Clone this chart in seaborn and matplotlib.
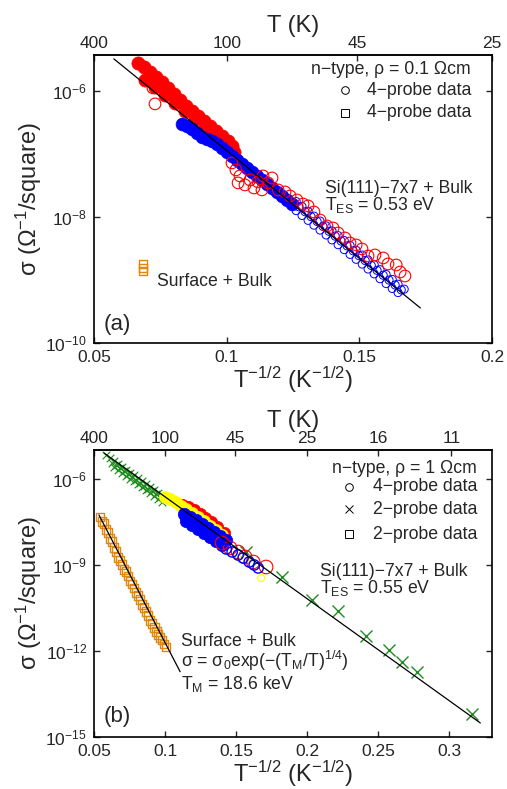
import numpy as np
import matplotlib
matplotlib.use("Agg")
import matplotlib.pyplot as plt
import seaborn as sns

# ---------------- panel (a): n-type, rho = 0.1 Ohm cm ----------------
# x = T^-1/2 (K^-1/2), y values given as log10(sigma)
red_fill_a_x = [0.0666, 0.0689, 0.0711, 0.0734, 0.0756, 0.0779, 0.0802, 0.0824, 0.0847,
                0.0869, 0.0892, 0.0915, 0.0937, 0.0960, 0.0983, 0.1005, 0.1020, 0.1028,
                0.0692, 0.0730, 0.0768, 0.0805, 0.0843, 0.0881, 0.0918, 0.0956, 0.0994]
red_fill_a_log = [-5.556, -5.619, -5.698, -5.778, -5.857, -5.952, -6.048, -6.143, -6.238,
                  -6.317, -6.397, -6.476, -6.556, -6.635, -6.714, -6.794, -6.873, -6.968,
                  -5.825, -5.937, -6.063, -6.190, -6.317, -6.444, -6.571, -6.698, -6.825]

red_open_a_x = [0.0722, 0.0730, 0.1020, 0.1035, 0.1050, 0.1043, 0.1069, 0.1088, 0.1103,
                0.1118, 0.1137, 0.1133, 0.1156, 0.1171, 0.1194, 0.1220, 0.1239, 0.1265,
                0.1288, 0.1307, 0.1329, 0.1352, 0.1378, 0.1401, 0.1420, 0.1446, 0.1465,
                0.1488, 0.1510, 0.1533, 0.1559, 0.1590, 0.1608, 0.1639, 0.1654, 0.1672]
red_open_a_log = [-5.952, -6.206, -7.143, -7.254, -7.349, -7.460, -7.492, -7.413, -7.540,
                  -7.444, -7.349, -7.571, -7.460, -7.381, -7.571, -7.603, -7.667, -7.730,
                  -7.794, -7.825, -7.921, -8.048, -8.143, -8.175, -8.254, -8.333, -8.413,
                  -8.444, -8.508, -8.619, -8.603, -8.651, -8.746, -8.762, -8.873, -8.937]

blue_fill_a_x = [0.0832, 0.0851, 0.0869, 0.0888, 0.0907, 0.0926, 0.0945, 0.0964, 0.0983,
                 0.1001, 0.1020, 0.1039, 0.1058, 0.1077, 0.1096, 0.1115, 0.1133, 0.1152,
                 0.1171, 0.1190, 0.1209, 0.1228, 0.1246]
blue_fill_a_log = [-6.524, -6.556, -6.603, -6.667, -6.730, -6.762, -6.794, -6.841, -6.905,
                   -6.968, -7.032, -7.095, -7.159, -7.222, -7.286, -7.349, -7.413, -7.476,
                   -7.540, -7.603, -7.667, -7.730, -7.794]

blue_open_a_x = [0.1262, 0.1284, 0.1307, 0.1329, 0.1352, 0.1375, 0.1397, 0.1420, 0.1443,
                 0.1465, 0.1488, 0.1511, 0.1533, 0.1556, 0.1578, 0.1601, 0.1624, 0.1646,
                 0.1669,
                 0.1262, 0.1284, 0.1307, 0.1329, 0.1352, 0.1375, 0.1397, 0.1420, 0.1443,
                 0.1465, 0.1488, 0.1511, 0.1533, 0.1556, 0.1578, 0.1601, 0.1624, 0.1646,
                 0.1273, 0.1296, 0.1318, 0.1341, 0.1363, 0.1386, 0.1409, 0.1431, 0.1454,
                 0.1477, 0.1499, 0.1522, 0.1545, 0.1567, 0.1590, 0.1612, 0.1635, 0.1658]
blue_open_a_log = [-7.756, -7.833, -7.911, -7.987, -8.065, -8.143, -8.221, -8.297, -8.375,
                   -8.451, -8.529, -8.605, -8.683, -8.760, -8.837, -8.914, -8.992, -9.068,
                   -9.146,
                   -7.899, -7.976, -8.054, -8.130, -8.208, -8.286, -8.364, -8.440, -8.518,
                   -8.594, -8.672, -8.748, -8.826, -8.903, -8.980, -9.057, -9.135, -9.200,
                   -7.840, -7.918, -7.995, -8.072, -8.150, -8.228, -8.305, -8.382, -8.460,
                   -8.538, -8.615, -8.692, -8.770, -8.848, -8.925, -9.002, -9.080, -9.158]

orange_a_x = [0.0685, 0.0685, 0.0685]
orange_a_log = [-8.746, -8.810, -8.857]

fit_a_x = [0.0575, 0.1730]
fit_a_log = [-5.492, -9.444]

# ---------------- panel (b): n-type, rho = 1 Ohm cm ----------------
green_dense_x = [0.0585, 0.0613, 0.0641, 0.0669, 0.0697, 0.0725, 0.0754, 0.0782, 0.0810,
                 0.0838, 0.0866, 0.0894, 0.0923, 0.0951, 0.0979, 0.1007,
                 0.0641, 0.0669, 0.0697, 0.0725, 0.0754, 0.0782, 0.0810, 0.0838, 0.0866,
                 0.0894, 0.0923, 0.0951, 0.0979,
                 0.0627, 0.0655, 0.0683, 0.0711, 0.0739, 0.0768, 0.0796, 0.0824, 0.0852,
                 0.0880, 0.0908, 0.0937, 0.0965]
green_dense_log = [-5.188, -5.289, -5.390, -5.488, -5.589, -5.690, -5.791, -5.889, -5.990,
                   -6.091, -6.192, -6.289, -6.390, -6.491, -6.589, -6.690,
                   -5.599, -5.697, -5.798, -5.899, -6.000, -6.098, -6.199, -6.300, -6.401,
                   -6.498, -6.599, -6.700, -6.798,
                   -5.440, -5.540, -5.640, -5.745, -5.845, -5.945, -6.045, -6.145, -6.245,
                   -6.345, -6.445, -6.545, -6.645]

green_sparse_x = [0.1570, 0.1824, 0.2035, 0.2218, 0.2415, 0.2577, 0.2669, 0.2775, 0.3162]
green_sparse_log = [-8.554, -9.425, -10.226, -10.610, -11.481, -11.969, -12.387, -12.735, -14.199]

yellow_fill_x = [0.1000, 0.1035, 0.1077, 0.1113, 0.1148, 0.1190, 0.1232, 0.1275, 0.1317,
                 0.1359, 0.1401]
yellow_fill_log = [-6.638, -6.707, -6.812, -6.951, -7.056, -7.195, -7.334, -7.474, -7.648,
                   -7.787, -7.962]

red_fill_b_x = [0.1120, 0.1162, 0.1204, 0.1246, 0.1282, 0.1324, 0.1366, 0.1415,
                0.1141, 0.1183, 0.1225, 0.1268, 0.1310, 0.1352, 0.1394]
red_fill_b_log = [-6.916, -7.003, -7.091, -7.230, -7.369, -7.509, -7.683, -7.892,
                  -7.160, -7.265, -7.369, -7.509, -7.648, -7.787, -7.962]

blue_fill_b_x = [0.1134, 0.1176, 0.1218, 0.1261, 0.1303, 0.1345, 0.1387, 0.1430,
                 0.1148, 0.1190, 0.1232, 0.1275, 0.1317, 0.1359, 0.1401]
blue_fill_b_log = [-7.230, -7.334, -7.439, -7.578, -7.718, -7.857, -7.997, -8.136,
                   -7.474, -7.613, -7.753, -7.892, -8.031, -8.171, -8.310]

red_open_b_x = [0.1401, 0.1458, 0.1514, 0.1563, 0.1620, 0.1711]
red_open_b_log = [-8.240, -8.415, -8.554, -8.728, -8.902, -9.077]

blue_open_b_x = [0.1430, 0.1472, 0.1514, 0.1549, 0.1592, 0.1627, 0.1655]
blue_open_b_log = [-8.449, -8.554, -8.659, -8.763, -8.902, -9.007, -9.111]

yellow_open_x = [0.1507, 0.1570, 0.1613, 0.1676]
yellow_open_log = [-8.728, -8.763, -8.937, -9.460]

orange_b_x = [0.0542, 0.0556, 0.0570, 0.0585, 0.0599, 0.0613, 0.0627, 0.0641, 0.0655,
              0.0669, 0.0683, 0.0697, 0.0711, 0.0725, 0.0739, 0.0754, 0.0768, 0.0782,
              0.0796, 0.0810, 0.0824, 0.0838, 0.0852, 0.0866, 0.0880, 0.0894, 0.0908,
              0.0923, 0.0937, 0.0951, 0.0965, 0.0979, 0.0993, 0.1007]
orange_b_log = [-7.334, -7.505, -7.575, -7.780, -7.882, -8.091, -8.192, -8.401, -8.537,
                -8.742, -8.847, -8.983, -9.157, -9.223, -9.394, -9.568, -9.669, -9.808,
                -9.979, -10.080, -10.220, -10.390, -10.495, -10.631, -10.767, -10.941,
                -11.042, -11.181, -11.317, -11.418, -11.523, -11.624, -11.763, -11.864]

fit_b_x = [0.0570, 0.3218]
fit_b_log = [-5.105, -14.512]
fit_orange_x = [0.0535, 0.1106]
fit_orange_log = [-7.265, -12.725]

top_T_a = [400, 100, 45, 25]
top_T_b = [400, 100, 45, 25, 16, 11]

RED = '#ff0000'
BLUE = '#0000ff'
GREEN = '#1e8c1e'
YELLOW = '#ffff00'
ORANGE = '#e0880c'
FS = 12.7

sns.set_style('ticks')
plt.rcParams['font.family'] = ['Liberation Sans', 'DejaVu Sans']
plt.rcParams['mathtext.fontset'] = 'custom'
plt.rcParams['mathtext.rm'] = 'Liberation Sans'
plt.rcParams['mathtext.it'] = 'Liberation Sans'
plt.rcParams['mathtext.default'] = 'regular'
plt.rcParams['axes.linewidth'] = 1.2


def sig(vals):
    return np.power(10.0, np.array(vals))


def pts(ax, x, logy, color, size, filled=True, marker='o', lw=0.8):
    if filled:
        sns.scatterplot(x=x, y=sig(logy), ax=ax, marker=marker, s=size,
                        color=color, edgecolor=color, linewidth=0.5, zorder=2)
    elif marker == 'x':
        sns.scatterplot(x=x, y=sig(logy), ax=ax, marker='x', s=size,
                        color=color, linewidth=lw, zorder=2)
    else:
        sns.scatterplot(x=x, y=sig(logy), ax=ax, marker=marker, s=size,
                        facecolor='none', edgecolor=color, linewidth=lw, zorder=2)


def fitline(ax, x, logy):
    ax.plot(x, sig(logy), color='black', lw=0.9, zorder=5)


def style_axes(ax, xlim, ylim, xticks, yticks, tvals):
    ax.set_yscale('log')
    ax.set_xlim(*xlim)
    ax.set_ylim(*ylim)
    ax.set_xticks(xticks)
    ax.set_xticklabels([('%g' % t) for t in xticks])
    ax.set_yticks(yticks)
    ax.minorticks_off()
    ax.tick_params(direction='in', length=4, width=1, labelsize=12.5,
                   right=True, top=False, pad=5)
    for s in ax.spines.values():
        s.set_visible(True)
        s.set_color('black')
    sec = ax.secondary_xaxis('top')
    sec.set_xticks([t ** -0.5 for t in tvals])
    sec.set_xticklabels([str(t) for t in tvals])
    sec.tick_params(direction='in', length=4, width=1, labelsize=12.5, pad=3)
    sec.set_xlabel('T (K)', fontsize=17, labelpad=3)
    ax.set_xlabel('T$^{-1/2}$ (K$^{-1/2}$)', fontsize=17, labelpad=0)
    ax.set_ylabel('σ (Ω$^{-1}$/square)', fontsize=17, labelpad=1)


def key(ax, mx, tx, ys, markers, labels, head, head_txt):
    ax.text(tx[1], head, head_txt, transform=ax.transAxes, ha='right',
            va='center', fontsize=FS)
    for y, m, lab in zip(ys, markers, labels):
        ax.plot([mx], [y], marker=m, ms=5.5, mfc='none', mec='black', mew=0.7,
                transform=ax.transAxes, linestyle='none')
        ax.text(tx[0], y, lab, transform=ax.transAxes, ha='left', va='center',
                fontsize=FS)


fig = plt.figure(figsize=(5.07, 7.89), dpi=100)
ax1 = fig.add_axes([0.1854, 0.5653, 0.7850, 0.3650])
ax2 = fig.add_axes([0.1854, 0.0659, 0.7850, 0.3638])

# ---- (a)
pts(ax1, red_fill_a_x, red_fill_a_log, RED, 90)
pts(ax1, blue_fill_a_x, blue_fill_a_log, BLUE, 85)
pts(ax1, blue_open_a_x, blue_open_a_log, BLUE, 34, filled=False, lw=0.7)
pts(ax1, red_open_a_x, red_open_a_log, RED, 70, filled=False)
pts(ax1, orange_a_x, orange_a_log, ORANGE, 28, filled=False, marker='s', lw=1.0)
fitline(ax1, fit_a_x, fit_a_log)
style_axes(ax1, (0.05, 0.2), (1e-10, 10 ** -5.43), [0.05, 0.1, 0.15, 0.2],
           [1e-10, 1e-8, 1e-6], top_T_a)

key(ax1, 0.631, (0.686, 0.947), [0.878, 0.799], ['o', 's'],
    ['4−probe data', '4−probe data'], 0.948, 'n−type, ρ = 0.1 Ωcm')
ax1.text(0.580, 0.538, 'Si(111)−7x7 + Bulk', transform=ax1.transAxes, fontsize=FS,
         va='center')
ax1.text(0.580, 0.478, 'T$_{ES}$ = 0.53 eV', transform=ax1.transAxes, fontsize=FS,
         va='center')
ax1.text(0.158, 0.212, 'Surface + Bulk', transform=ax1.transAxes, fontsize=FS,
         va='center')
ax1.text(0.023, 0.065, '(a)', transform=ax1.transAxes, fontsize=16, va='center')

# ---- (b)
pts(ax2, green_dense_x, green_dense_log, GREEN, 30, filled=False, marker='x', lw=0.8)
pts(ax2, green_sparse_x, green_sparse_log, GREEN, 75, filled=False, marker='x', lw=1.0)
pts(ax2, orange_b_x, orange_b_log, ORANGE, 40, filled=False, marker='s', lw=1.0)
pts(ax2, red_fill_b_x, red_fill_b_log, RED, 80)
pts(ax2, yellow_fill_x, yellow_fill_log, YELLOW, 75)
pts(ax2, blue_fill_b_x, blue_fill_b_log, BLUE, 80)
pts(ax2, red_open_b_x, red_open_b_log, RED, 95, filled=False)
pts(ax2, yellow_open_x, yellow_open_log, YELLOW, 25, filled=False)
pts(ax2, blue_open_b_x, blue_open_b_log, BLUE, 55, filled=False, lw=1.0)
fitline(ax2, fit_b_x, fit_b_log)
fitline(ax2, fit_orange_x, fit_orange_log)
style_axes(ax2, (0.05, 0.33), (1e-15, 1e-5), [0.05, 0.1, 0.15, 0.2, 0.25, 0.3],
           [1e-15, 1e-12, 1e-9, 1e-6], top_T_b)

key(ax2, 0.641, (0.701, 0.962), [0.871, 0.794, 0.707], ['o', 'x', 's'],
    ['4−probe data', '2−probe data', '2−probe data'], 0.937, 'n−type, ρ = 1 Ωcm')
ax2.text(0.568, 0.578, 'Si(111)−7x7 + Bulk', transform=ax2.transAxes, fontsize=FS,
         va='center')
ax2.text(0.568, 0.520, 'T$_{ES}$ = 0.55 eV', transform=ax2.transAxes, fontsize=FS,
         va='center')
ax2.text(0.219, 0.331, 'Surface + Bulk', transform=ax2.transAxes, fontsize=FS,
         va='center')
ax2.text(0.219, 0.265, 'σ = σ$_0$exp(−(T$_M$/T)$^{1/4}$)', transform=ax2.transAxes,
         fontsize=FS, va='center')
ax2.text(0.219, 0.185, 'T$_M$ = 18.6 keV', transform=ax2.transAxes, fontsize=FS,
         va='center')
ax2.text(0.023, 0.070, '(b)', transform=ax2.transAxes, fontsize=16, va='center')

fig.savefig('out.png', dpi=100, facecolor='white')
